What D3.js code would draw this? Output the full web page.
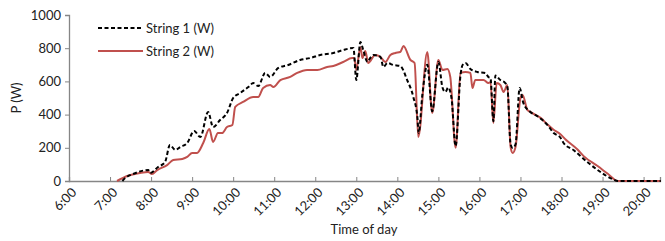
<!DOCTYPE html>
<html>
<head>
<meta charset="utf-8">
<script src="https://cdn.jsdelivr.net/npm/d3@7"></script>
<style>
  body { margin: 0; background: #fff; }
  svg text { font-family: Lato, "Open Sans", sans-serif; fill: #222; }
</style>
</head>
<body>
<svg width="665" height="241"></svg>
<script>
// Time of day in decimal hours, power in W
const string1Hours = [7.30, 7.37, 7.56, 7.93, 7.98, 8.17, 8.34, 8.46, 8.59, 8.71, 8.88, 9.05, 9.20, 9.39, 9.51, 9.68, 9.85,
  10.00, 10.17, 10.37, 10.49, 10.61, 10.78, 10.90, 11.10, 11.34, 11.63, 11.88, 12.12, 12.44, 12.68, 12.93, 13.00,
  13.10, 13.17, 13.27, 13.34, 13.42, 13.59, 13.66, 13.76, 13.90, 14.07, 14.24, 14.39, 14.49, 14.52, 14.61, 14.73,
  14.85, 15.00, 15.10, 15.17, 15.24, 15.32, 15.42, 15.54, 15.59, 15.66, 15.78, 15.95, 16.15, 16.22, 16.27, 16.34,
  16.39, 16.51, 16.63, 16.68, 16.76, 16.81, 16.88, 16.98, 17.07, 17.24, 17.44, 17.66, 17.81, 17.98, 18.05, 18.29,
  18.63, 18.95, 19.24, 19.37, 20.42];
const string1Watts = [0, 18, 42, 66, 48, 84, 114, 217, 187, 205, 229, 301, 265, 416, 325, 367, 410,
  500, 530, 566, 590, 572, 651, 627, 681, 699, 729, 741, 759, 771, 789, 801, 608,
  837, 789, 717, 741, 759, 747, 687, 711, 699, 693, 608, 506, 380, 290, 520, 700,
  420, 717, 563, 536, 563, 500, 210, 640, 699, 711, 675, 657, 650, 626, 620, 360,
  635, 608, 590, 570, 220, 199, 220, 560, 470, 416, 386, 337, 289, 259, 229, 187,
  114, 54, 12, 0, 0];

const string2Hours = [7.17, 7.42, 7.73, 7.93, 8.02, 8.15, 8.39, 8.54, 8.76, 8.88, 9.00, 9.12, 9.27, 9.42, 9.51, 9.63, 9.73, 9.85, 9.98,
  10.05, 10.24, 10.49, 10.61, 10.73, 10.90, 10.98, 11.15, 11.39, 11.56, 11.80, 12.05, 12.29, 12.44, 12.68, 12.90, 12.95, 13.00,
  13.10, 13.15, 13.22, 13.29, 13.46, 13.59, 13.71, 13.83, 13.95, 14.07, 14.15, 14.32, 14.42, 14.51, 14.73, 14.85,
  15.00, 15.10, 15.22, 15.29, 15.42, 15.54, 15.66, 15.78, 15.83, 15.90, 16.10, 16.22, 16.27, 16.34, 16.42, 16.51,
  16.59, 16.68, 16.76, 16.81, 16.88, 17.00, 17.05, 17.17, 17.24, 17.37, 17.49, 17.66, 17.80, 17.98, 18.10, 18.39,
  18.54, 18.88, 19.12, 19.37, 20.42];
const string2Watts = [0, 30, 48, 54, 42, 66, 96, 126, 133, 145, 169, 169, 229, 313, 235, 289, 289, 325, 337,
  446, 476, 506, 506, 560, 578, 566, 608, 627, 651, 669, 669, 687, 693, 717, 741, 741, 669,
  807, 741, 783, 711, 759, 747, 717, 759, 771, 777, 813, 729, 711, 265, 777, 410,
  729, 669, 675, 627, 200, 651, 657, 651, 560, 609, 609, 590, 596, 349, 590, 578,
  536, 578, 205, 169, 205, 500, 518, 428, 416, 398, 380, 340, 310, 280, 250, 190,
  150, 90, 45, 0, 0];

const yTicks = [0, 200, 400, 600, 800, 1000];
const xTicks = [6, 7, 8, 9, 10, 11, 12, 13, 14, 15, 16, 17, 18, 19, 20];

const svg = d3.select("svg");
const axisColor = "#868686";

const x = d3.scaleLinear().domain([6, 20.4]).range([69, 660]);
const y = d3.scaleLinear().domain([0, 1000]).range([181, 15]);

// y axis
const yAxis = svg.append("g")
  .attr("transform", "translate(69,0)")
  .call(d3.axisLeft(y).tickValues(yTicks).tickSize(4).tickPadding(4).tickFormat(d3.format("d")));
yAxis.select(".domain").attr("stroke", axisColor).attr("stroke-width", 1.3);
yAxis.selectAll(".tick line").attr("stroke", axisColor);
yAxis.selectAll(".tick text").style("font-size", "13px").attr("fill", "#222");

// x axis, ticks point up into the plot
const xAxis = svg.append("g")
  .attr("transform", "translate(0,181)")
  .call(d3.axisBottom(x).tickValues(xTicks).tickSize(-4).tickFormat(""));
xAxis.select(".domain").attr("stroke", axisColor).attr("stroke-width", 1.3);
xAxis.selectAll(".tick line").attr("stroke", axisColor);

// rotated time labels
svg.append("g")
  .selectAll("text")
  .data(xTicks)
  .enter()
  .append("text")
  .attr("transform", d => `translate(${x(d) + 5},190) rotate(-45)`)
  .attr("text-anchor", "end")
  .attr("dy", "0.35em")
  .style("font-size", "13px")
  .text(d => d + ":00");

// axis titles
svg.append("text")
  .attr("transform", "translate(21,98) rotate(-90)")
  .attr("text-anchor", "middle")
  .style("font-size", "13px")
  .text("P (W)");

svg.append("text")
  .attr("x", 364)
  .attr("y", 234)
  .attr("text-anchor", "middle")
  .style("font-size", "13px")
  .text("Time of day");

// series lines
const line = d3.line()
  .x(d => x(d[0]))
  .y(d => y(d[1]))
  .curve(d3.curveMonotoneX);

const series = [
  { name: "String 1 (W)", data: d3.zip(string1Hours, string1Watts), color: "#000", dash: "4,2.5" },
  { name: "String 2 (W)", data: d3.zip(string2Hours, string2Watts), color: "#c0504d", dash: null }
];

// draw string 1 on top like the reference
[series[1], series[0]].forEach(s => {
  svg.append("path")
    .datum(s.data)
    .attr("fill", "none")
    .attr("stroke", s.color)
    .attr("stroke-width", 2)
    .attr("stroke-dasharray", s.dash)
    .attr("d", line);
});

// legend
const legend = svg.append("g");
series.forEach((s, i) => {
  const ly = 28 + i * 23;
  legend.append("line")
    .attr("x1", 98).attr("x2", 143)
    .attr("y1", ly).attr("y2", ly)
    .attr("stroke", s.color)
    .attr("stroke-width", 2)
    .attr("stroke-dasharray", s.dash);
  legend.append("text")
    .attr("x", 146)
    .attr("y", ly)
    .attr("dy", "0.35em")
    .style("font-size", "13px")
    .text(s.name);
});
</script>
</body>
</html>
